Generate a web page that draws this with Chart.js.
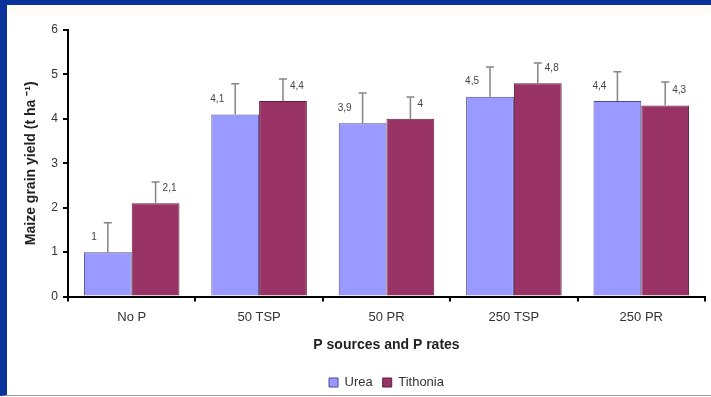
<!DOCTYPE html>
<html>
<head>
<meta charset="utf-8">
<script src="https://cdn.jsdelivr.net/npm/chart.js@4/dist/chart.umd.min.js"></script>
<style>
  html, body { margin: 0; padding: 0; background: #ffffff; }
  #frame {
    position: absolute; left: 0; top: 0;
    width: 704px; height: 390px;
    border-top: 5px solid #0a329a;
    border-left: 7px solid #0a329a;
    border-bottom: 1px solid #9a9a9a;
    background: linear-gradient(#fffaf0 0px, #ffffff 14px);
  }
  #wrap { position: absolute; left: 0; top: 0; width: 704px; height: 390px; }
</style>
</head>
<body>
<div id="frame"><div id="wrap"><canvas id="chart"></canvas></div></div>
<script>
// Maize grain yield by P source and rate
const categories = ['No P', '50 TSP', '50 PR', '250 TSP', '250 PR'];
const ureaYield = [1, 4.1, 3.9, 4.5, 4.4];
const tithoniaYield = [2.1, 4.4, 4, 4.8, 4.3];
// Upper error bar lengths (t/ha)
const ureaError = [0.66, 0.69, 0.68, 0.67, 0.66];
const tithoniaError = [0.48, 0.5, 0.49, 0.46, 0.53];
const yTicks = [0, 1, 2, 3, 4, 5, 6];

const FONT = "'Liberation Sans', Arial, sans-serif";

// One-sided error bars plus value labels above each bar
const errorBarsAndLabels = {
  id: 'errorBarsAndLabels',
  afterDatasetsDraw(chart) {
    const ctx = chart.ctx;
    const yScale = chart.scales.y;
    chart.data.datasets.forEach((ds, di) => {
      const meta = chart.getDatasetMeta(di);
      meta.data.forEach((bar, i) => {
        const v = ds.data[i];
        const top = yScale.getPixelForValue(v + ds.errors[i]);
        ctx.save();
        ctx.strokeStyle = '#858585';
        ctx.lineWidth = 1.5;
        ctx.beginPath();
        ctx.moveTo(bar.x, bar.y);
        ctx.lineTo(bar.x, top);
        ctx.moveTo(bar.x - 4, top);
        ctx.lineTo(bar.x + 4, top);
        ctx.stroke();

        ctx.fillStyle = '#444444';
        ctx.font = '10px ' + FONT;
        ctx.textBaseline = 'middle';
        const text = String(v).replace('.', ',');
        if (di === 0) {
          ctx.textAlign = 'right';
          ctx.fillText(text, bar.x - 11, bar.y - 15);
        } else {
          ctx.textAlign = 'left';
          ctx.fillText(text, bar.x + 7, bar.y - 15);
        }
        ctx.restore();
      });
    });
  }
};

// Center the legend under the plot area and drop it a little lower
const legendUnderPlot = {
  id: 'legendUnderPlot',
  afterLayout(chart) {
    const lg = chart.legend;
    if (!lg) return;
    lg.left = chart.chartArea.left;
    lg.right = chart.chartArea.right;
    lg.top += 10;
    lg.bottom += 10;
    lg.adjustHitBoxes();
  }
};

new Chart(document.getElementById('chart'), {
  type: 'bar',
  data: {
    labels: categories,
    datasets: [
      {
        label: 'Urea',
        data: ureaYield,
        errors: ureaError,
        backgroundColor: '#9999ff',
        borderColor: '#4b4b8c',
        borderWidth: 1,
        categoryPercentage: 0.75,
        barPercentage: 1.0
      },
      {
        label: 'Tithonia',
        data: tithoniaYield,
        errors: tithoniaError,
        backgroundColor: '#993366',
        borderColor: '#5c1f3d',
        borderWidth: 1,
        categoryPercentage: 0.75,
        barPercentage: 1.0
      }
    ]
  },
  options: {
    responsive: true,
    maintainAspectRatio: false,
    animation: false,
    layout: { padding: { left: 0, right: 6, top: 25, bottom: 6 } },
    plugins: {
      tooltip: { enabled: false },
      legend: {
        position: 'bottom',
        labels: {
          boxWidth: 9,
          boxHeight: 9,
          padding: 10,
          color: '#333333',
          font: { family: FONT, size: 13 }
        }
      }
    },
    scales: {
      x: {
        border: { color: '#000000', width: 2 },
        grid: { display: true, drawOnChartArea: false, drawTicks: true, tickLength: 5, color: '#000000', lineWidth: 2 },
        ticks: { color: '#333333', padding: 8, font: { family: FONT, size: 13 } },
        title: {
          display: true,
          text: 'P sources and P rates',
          color: '#222222',
          font: { family: FONT, size: 14, weight: 'bold' },
          padding: { top: 4, bottom: 2 }
        }
      },
      y: {
        min: 0,
        max: 6,
        afterBuildTicks(scale) { scale.ticks = yTicks.map(v => ({ value: v })); },
        afterFit(scale) { scale.width = 61; },
        border: { color: '#000000', width: 2 },
        grid: { display: true, drawOnChartArea: false, drawTicks: true, tickLength: 5, color: '#000000', lineWidth: 2 },
        ticks: { color: '#333333', padding: 5, font: { family: FONT, size: 12 } },
        title: {
          display: true,
          text: 'Maize grain yield (t ha \u207B\u00B9)',
          color: '#222222',
          font: { family: FONT, size: 14, weight: 'bold' },
          padding: { top: 16, bottom: 0 }
        }
      }
    }
  },
  plugins: [errorBarsAndLabels, legendUnderPlot]
});
</script>
</body>
</html>
